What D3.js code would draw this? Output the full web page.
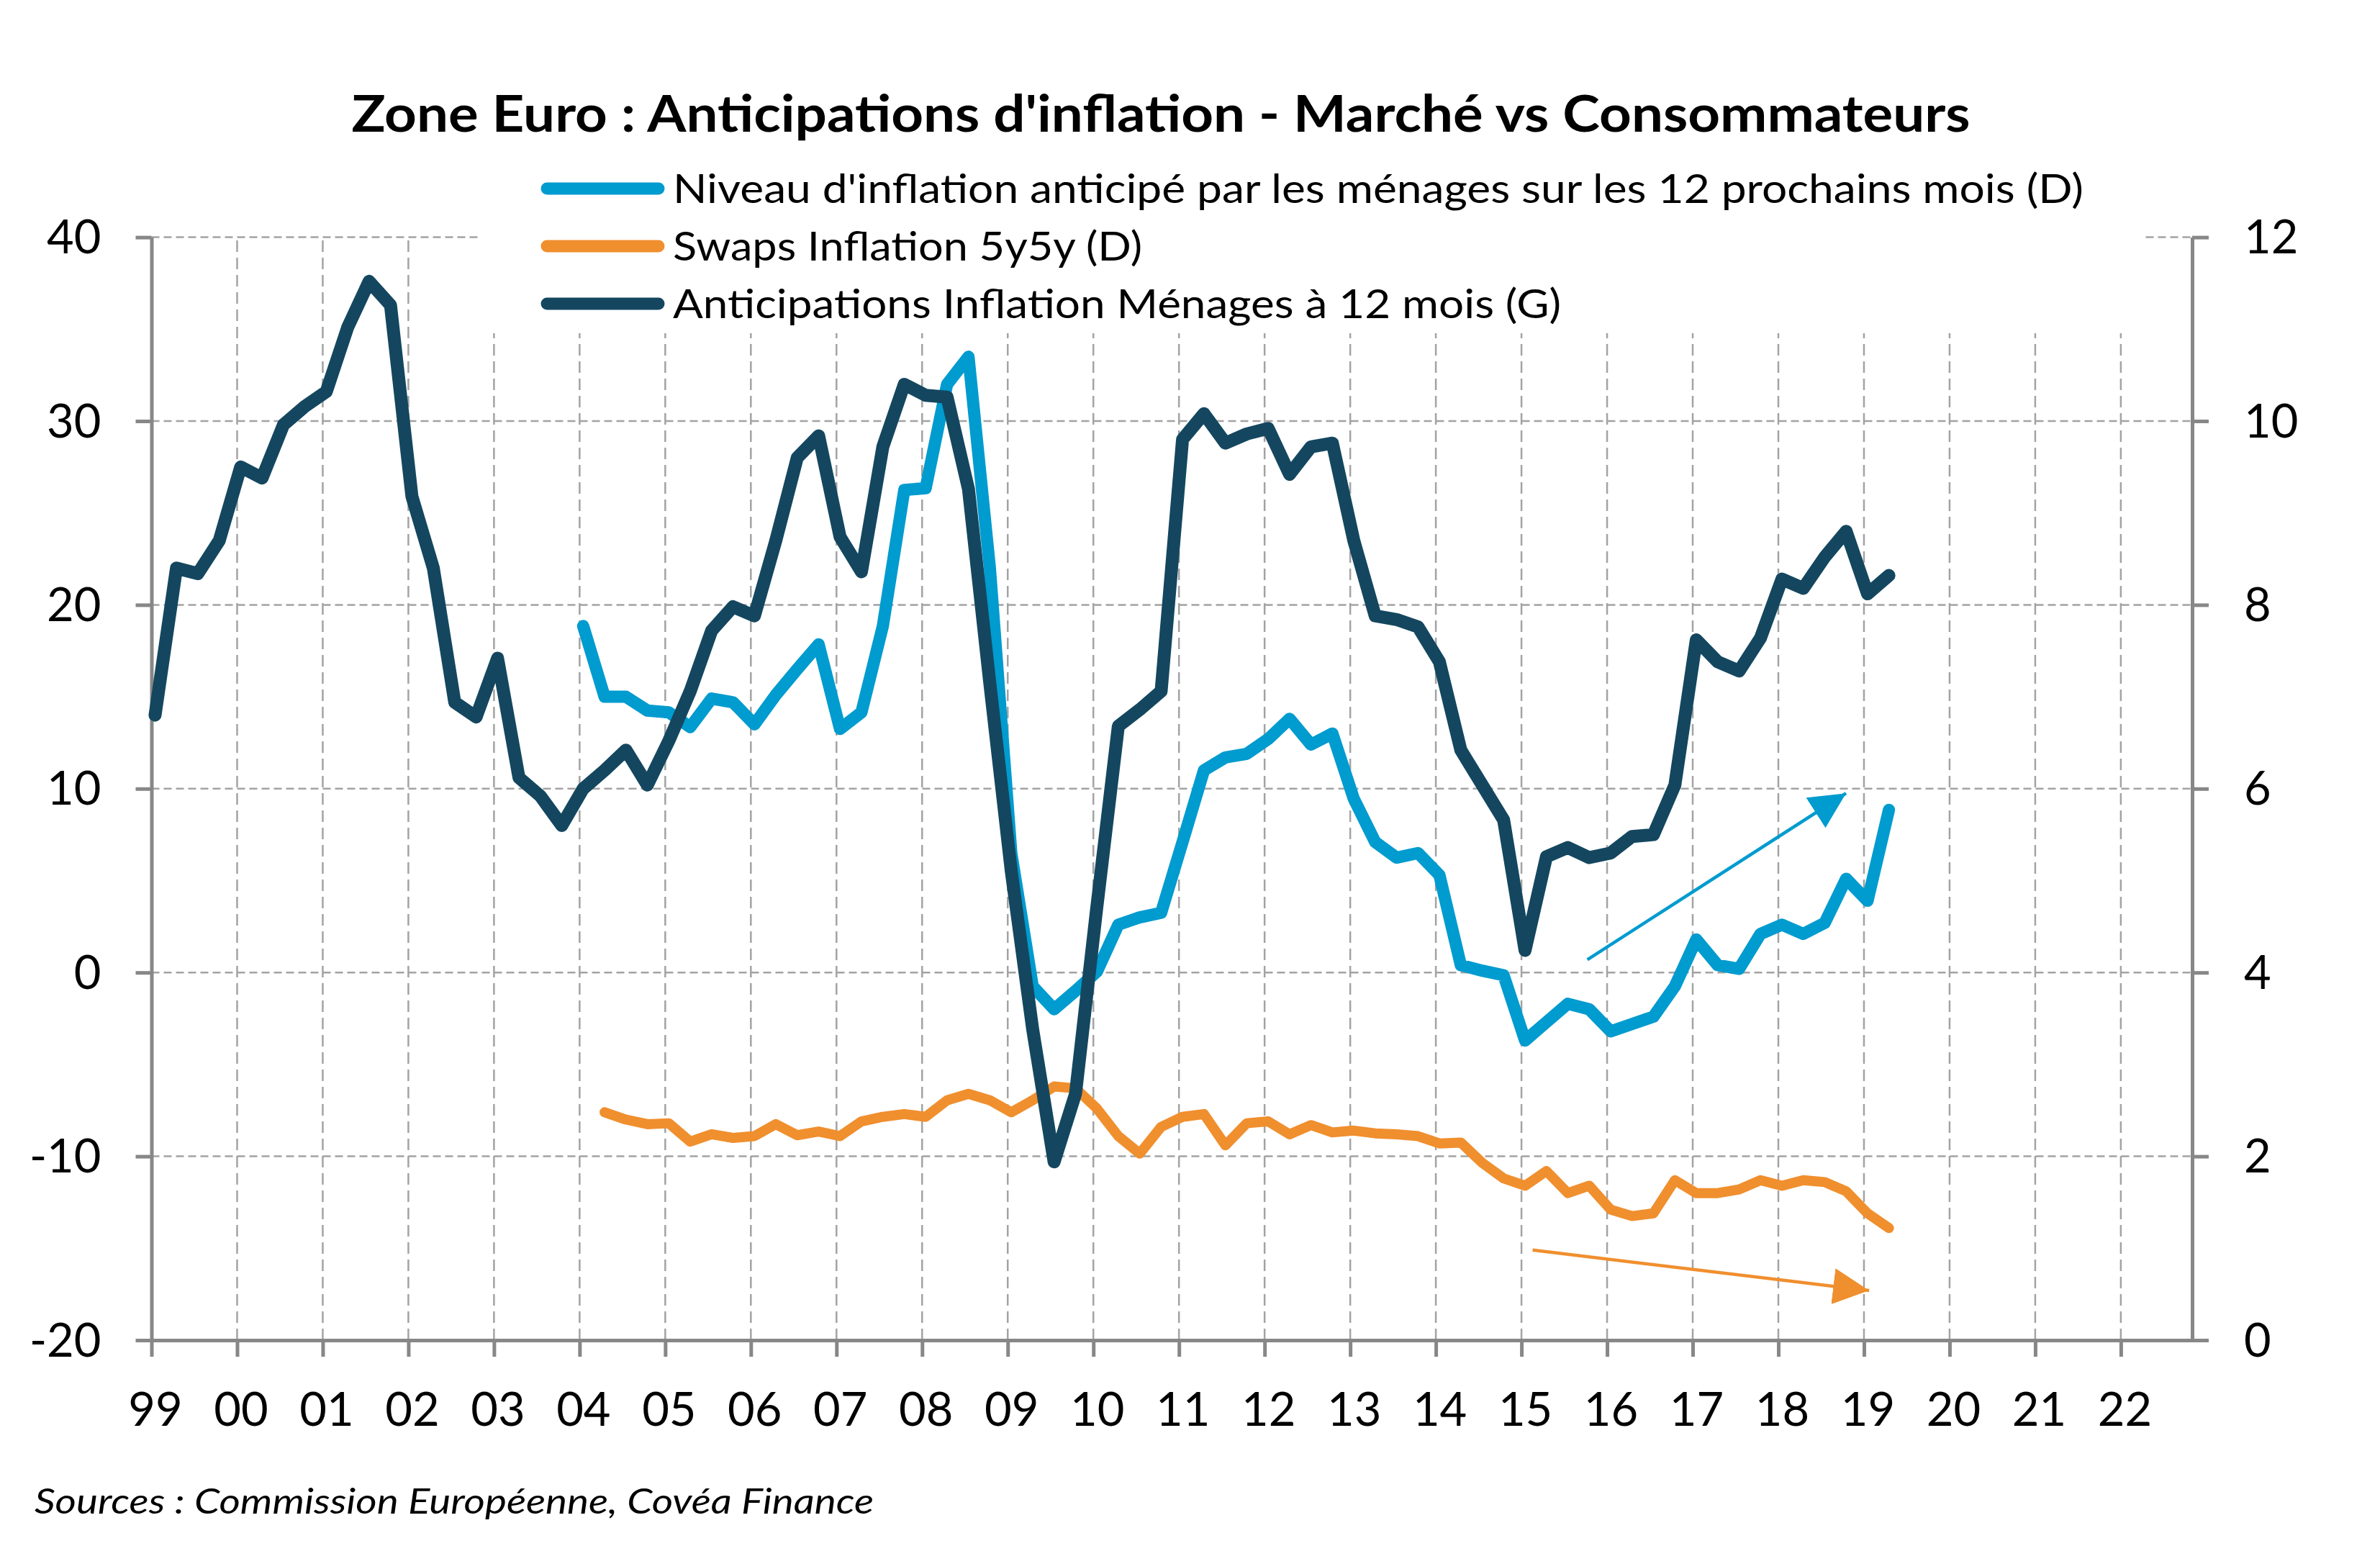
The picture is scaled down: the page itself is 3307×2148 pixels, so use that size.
<!DOCTYPE html>
<html><head><meta charset="utf-8">
<script src="https://cdn.jsdelivr.net/npm/d3@7"></script>
<style>
body{margin:0;background:#fff}
svg text{font-family:Lato,"Open Sans",sans-serif;fill:#000}
</style>
</head><body>
<svg id="chart" width="3307" height="2148"></svg>
<script>
// ---------- data ----------
const titleText = "Zone Euro : Anticipations d'inflation - Marché vs Consommateurs";
const sourceText = "Sources : Commission Européenne, Covéa Finance";
const yearTicks = [1999,2000,2001,2002,2003,2004,2005,2006,2007,2008,2009,2010,2011,2012,2013,2014,2015,2016,2017,2018,2019,2020,2021,2022];
const yearLabels = ["99","00","01","02","03","04","05","06","07","08","09","10","11","12","13","14","15","16","17","18","19","20","21","22"];
const leftTicks = [-20,-10,0,10,20,30,40];
const rightTicks = [0,2,4,6,8,10,12];
const seriesNames = [
  "Niveau d'inflation anticipé par les ménages sur les 12 prochains mois (D)",
  "Swaps Inflation 5y5y (D)",
  "Anticipations Inflation Ménages à 12 mois (G)"
];
// quarterly, Anticipations Inflation Ménages (left axis), from 1999 Q1
const darkStartQuarter = 0;
const darkValues = [14.0,22.0,21.7,23.5,27.5,26.9,29.8,30.8,31.6,35.1,
  37.6,36.3,25.9,22.0,14.7,13.9,17.1,10.6,9.6,8.0,
  10.0,11.0,12.1,10.2,12.6,15.3,18.6,19.9,19.4,23.5,
  28.0,29.2,23.7,21.8,28.6,32.0,31.4,31.3,26.3,15.7,
  5.5,-3.1,-10.3,-6.6,3.6,13.4,14.3,15.3,29.0,30.4,
  28.8,29.3,29.6,27.1,28.6,28.8,23.5,19.4,19.2,18.8,
  16.9,12.1,10.2,8.3,1.2,6.3,6.8,6.25,6.5,7.4,
  7.5,10.2,18.1,16.9,16.4,18.2,21.4,20.9,22.6,24.0,20.6,21.6];
// quarterly, Niveau d'inflation anticipé (right axis), from 2004 Q1
const blueStartQuarter = 20;
const blueValues = [7.77,7.0,7.0,6.85,6.83,6.67,6.98,6.94,6.7,7.02,
  7.3,7.57,6.65,6.83,7.77,9.25,9.27,10.4,10.7,8.4,
  5.3,3.85,3.6,3.8,4.01,4.52,4.6,4.65,5.42,6.2,
  6.34,6.38,6.54,6.76,6.48,6.6,5.89,5.42,5.25,5.3,
  5.06,4.08,4.02,3.97,3.26,3.46,3.66,3.6,3.36,3.44,
  3.52,3.85,4.36,4.08,4.04,4.42,4.52,4.42,4.54,5.02,4.78,5.77];
// quarterly, Swaps Inflation 5y5y (right axis), from 2004 Q2
const orangeStartQuarter = 21;
const orangeValues = [2.48,2.40,2.35,2.36,2.16,2.24,2.2,2.22,2.35,
  2.23,2.27,2.22,2.38,2.43,2.46,2.43,2.61,2.68,2.61,
  2.48,2.61,2.76,2.74,2.52,2.22,2.03,2.32,2.43,2.46,
  2.12,2.36,2.38,2.24,2.34,2.26,2.28,2.25,2.24,2.22,
  2.14,2.15,1.93,1.76,1.68,1.84,1.6,1.68,1.42,1.35,
  1.38,1.74,1.6,1.6,1.64,1.74,1.68,1.74,1.72,1.62,1.38,1.22];
// trend arrows (year, right-axis value)
const blueArrow = [[2015.77,4.14],[2018.79,5.95]];
const orangeArrow = [[2015.13,0.98],[2019.06,0.54]];

// ---------- chart ----------
const C = {dark:"#14475f", blue:"#009bcf", orange:"#f08f2e", grid:"#a3a3a3", axis:"#878787"};
const svg = d3.select("#chart");
const x = d3.scaleLinear().domain([1999, 2022.833]).range([210.5, 3046]);
const yL = d3.scaleLinear().domain([-20, 40]).range([1862, 329.6]);
const yR = d3.scaleLinear().domain([0, 12]).range([1862, 329.6]);
const qDate = q => 1999 + q / 4 + 1 / 24;

// gridlines
const grid = svg.append("g");
grid.selectAll("line.h").data(leftTicks.filter(d => d > -20)).join("line")
  .attr("x1", x.range()[0]).attr("x2", x.range()[1])
  .attr("y1", d => yL(d)).attr("y2", d => yL(d))
  .attr("stroke", C.grid).attr("stroke-width", 2.5).attr("stroke-dasharray", "11,6");
grid.selectAll("line.v").data(yearTicks.slice(1)).join("line")
  .attr("x1", d => x(d)).attr("x2", d => x(d))
  .attr("y1", yL(-20)).attr("y2", yL(40))
  .attr("stroke", C.grid).attr("stroke-width", 2.5).attr("stroke-dasharray", "16,8");

// legend background (hides grid)
svg.append("rect").attr("x", 666).attr("y", 200).attr("width", 2313).attr("height", 263).attr("fill", "#fff");

// axes
function styleAxis(g){
  g.selectAll("path.domain").attr("stroke", C.axis).attr("stroke-width", 5);
  g.selectAll(".tick line").attr("stroke", C.axis).attr("stroke-width", 5);
  g.selectAll(".tick text").attr("font-size", 65).attr("font-family", "Lato").attr("fill", "#000");
}
const axL = svg.append("g").attr("transform", `translate(${x.range()[0]},0)`)
  .call(d3.axisLeft(yL).tickValues(leftTicks).tickFormat(d => String(d)).tickSize(22).tickSizeOuter(0).tickPadding(48));
styleAxis(axL);
const axR = svg.append("g").attr("transform", `translate(${x.range()[1]},0)`)
  .call(d3.axisRight(yR).tickValues(rightTicks).tickFormat(d => String(d)).tickSize(23).tickSizeOuter(0).tickPadding(49));
styleAxis(axR);
const axB = svg.append("g").attr("transform", `translate(0,${yL(-20)})`)
  .call(d3.axisBottom(x).tickValues(yearTicks).tickFormat((d, i) => yearLabels[i]).tickSize(23).tickSizeOuter(0).tickPadding(50));
styleAxis(axB);
axB.selectAll(".tick text").attr("dx", 5);
axL.selectAll(".tick text").attr("dy", "0.34em");
axR.selectAll(".tick text").attr("dy", "0.34em");

// series
function drawSeries(values, start, yScale, color, width){
  const pts = values.map((v, i) => [qDate(start + i), v]);
  svg.append("path").datum(pts)
    .attr("d", d3.line().x(d => x(d[0])).y(d => yScale(d[1])))
    .attr("fill", "none").attr("stroke", color).attr("stroke-width", width)
    .attr("stroke-linejoin", "round").attr("stroke-linecap", "round");
}
drawSeries(orangeValues, orangeStartQuarter, yR, C.orange, 14);
drawSeries(blueValues, blueStartQuarter, yR, C.blue, 17);
drawSeries(darkValues, darkStartQuarter, yL, C.dark, 18);

// arrows
const defs = svg.append("defs");
function marker(id, color){
  defs.append("marker").attr("id", id).attr("markerUnits", "userSpaceOnUse")
    .attr("markerWidth", 52).attr("markerHeight", 52).attr("refX", 50).attr("refY", 25)
    .attr("orient", "auto").append("path").attr("d", "M0,0 L50,25 L0,50 Z").attr("fill", color);
}
marker("arB", C.blue); marker("arO", C.orange);
function arrow(a, color, id){
  svg.append("line").attr("x1", x(a[0][0])).attr("y1", yR(a[0][1]))
    .attr("x2", x(a[1][0])).attr("y2", yR(a[1][1]))
    .attr("stroke", color).attr("stroke-width", 4.5).attr("marker-end", `url(#${id})`);
}
arrow(blueArrow, C.blue, "arB");
arrow(orangeArrow, C.orange, "arO");

// title
svg.append("text").attr("x", 1613).attr("y", 183).attr("text-anchor", "middle")
  .attr("font-size", 70).attr("font-weight", "bold")
  .attr("textLength", 2249).attr("lengthAdjust", "spacingAndGlyphs").text(titleText);

// legend
const legColors = [C.blue, C.orange, C.dark];
const legWidths = [1960, 652, 1234];
const leg = svg.append("g");
seriesNames.forEach((name, i) => {
  const cy = 262 + i * 80;
  leg.append("line").attr("x1", 760).attr("x2", 915).attr("y1", cy).attr("y2", cy)
    .attr("stroke", legColors[i]).attr("stroke-width", 17).attr("stroke-linecap", "round");
  leg.append("text").attr("x", 935).attr("y", cy + 20).attr("font-size", 56)
    .attr("textLength", legWidths[i]).attr("lengthAdjust", "spacingAndGlyphs").text(name);
});

// source
svg.append("text").attr("x", 48).attr("y", 2103).attr("font-size", 49).attr("font-style", "italic")
  .attr("textLength", 1166).attr("lengthAdjust", "spacingAndGlyphs").text(sourceText);
</script>
</body></html>
